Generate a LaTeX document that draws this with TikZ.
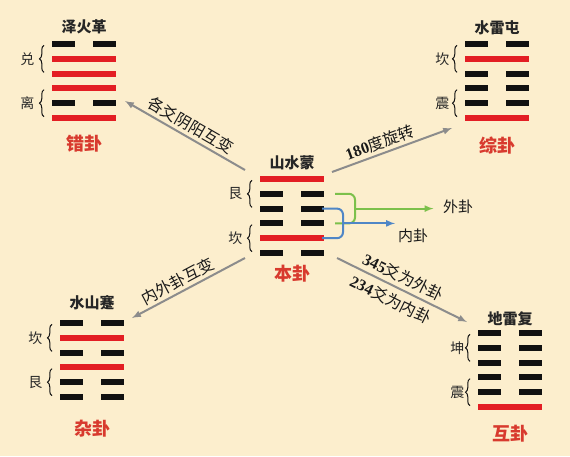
\documentclass[tikz,border=0pt]{standalone}
\usepackage{fontspec}
\setmainfont{Noto Sans CJK SC}
\newfontfamily\numfont{Liberation Serif}
\usepackage{tikz}
\usetikzlibrary{positioning, calc, decorations.pathreplacing}
\usepackage{xcolor}
\definecolor{bgcolor}{HTML}{FCEECD}
\definecolor{yangcolor}{HTML}{E31E24}
\definecolor{yincolor}{HTML}{111111}
\definecolor{namecolor}{HTML}{D83A2E}
\definecolor{arrowcolor}{HTML}{8C8C8C}
\definecolor{waicolor}{HTML}{7CC04B}
\definecolor{neicolor}{HTML}{4F86C6}

% one hexagram: #1 name, #2 left x, #3 top line y, #4 lines from top (1 = yang, 0 = yin)
\newcommand{\gua}[4]{%
  \node[guabox, anchor=north west] (#1) at (#2,#3+3) {};
  \coordinate (#1-up) at (#2,#3-14.8);
  \coordinate (#1-lo) at (#2,#3-59.2);
  \foreach \v [count=\i] in {#4} {
    \pgfmathsetmacro{\yy}{#3-(\i-1)*14.8}
    \ifnum\v=1
      \draw[yang] (#2,\yy) -- ++(64,0);
    \else
      \draw[yin] (#2,\yy) -- ++(23,0);
      \draw[yin] (#2+41,\yy) -- ++(23,0);
    \fi
  }
  \draw[trigrambrace] ($(#1-up)+(-8,-13.5)$) -- ($(#1-up)+(-8,13.5)$);
  \draw[trigrambrace] ($(#1-lo)+(-8,-13.5)$) -- ($(#1-lo)+(-8,13.5)$);
}

\begin{document}
\begin{tikzpicture}[x=1pt, y=1pt,
    guabox/.style={minimum width=64pt, minimum height=80pt, inner sep=0pt},
    yang/.style={line width=6pt, yangcolor},
    yin/.style={line width=6pt, yincolor},
    trigrambrace/.style={decorate, decoration={brace, amplitude=4.5pt}, line width=1pt, yincolor},
    guatitle/.style={font=\fontsize{15}{18}\selectfont\bfseries, text=black!85},
    guaname/.style={font=\fontsize{18}{21}\selectfont\bfseries, text=namecolor},
    trilabel/.style={font=\fontsize{14}{17}\selectfont, text=black!85},
    changearrow/.style={line width=2pt, arrowcolor, arrows={-latex}},
    changelabel/.style={font=\fontsize{16}{19}\selectfont, text=black!90, inner sep=3pt},
    sidelabel/.style={font=\fontsize{15}{18}\selectfont, text=black!90}]

    % Background
    \fill[bgcolor] (0,0) rectangle (570,-456);
    \useasboundingbox (0,0) rectangle (570,-456);

    % Hexagrams
    % ge (top left)
    \gua{ge}{52}{-44}{0,1,1,1,0,1}
    \node[guatitle, above=4pt of ge] {泽火革};
    \node[guaname, below=10pt of ge] {错卦};
    \node[trilabel, left=14pt of ge-up] {兑};
    \node[trilabel, left=14pt of ge-lo] {离};

    % zhun (top right)
    \gua{zhun}{465}{-44}{0,1,0,0,0,1}
    \node[guatitle, above=3pt of zhun] {水雷屯};
    \node[guaname, below=12pt of zhun] {综卦};
    \node[trilabel, left=12pt of zhun-up] {坎};
    \node[trilabel, left=12pt of zhun-lo] {震};

    % meng (centre)
    \gua{meng}{260}{-179}{1,0,0,0,1,0}
    \node[guatitle, above=3pt of meng] {山水蒙};
    \node[guaname, below=5pt of meng] {本卦};
    \node[trilabel, left=14pt of meng-up] {艮};
    \node[trilabel, left=14pt of meng-lo] {坎};

    % jian (bottom left)
    \gua{jian}{60}{-323}{0,1,0,1,0,0}
    \node[guatitle, above=6pt of jian] {水山蹇};
    \node[guaname, below=16pt of jian] {杂卦};
    \node[trilabel, left=14pt of jian-up] {坎};
    \node[trilabel, left=14pt of jian-lo] {艮};

    % fu (bottom right)
    \gua{fu}{478}{-333}{0,0,0,0,0,1}
    \node[guatitle, above=1pt of fu] {地雷复};
    \node[guaname, below=11pt of fu] {互卦};
    \node[trilabel, left=10pt of fu-up] {坤};
    \node[trilabel, left=10pt of fu-lo] {震};

    % Arrow ends
    \coordinate (meng-nw) at (245,-170);
    \coordinate (ge-se) at (125,-101);
    \coordinate (meng-ne) at (332,-172);
    \coordinate (zhun-sw) at (452,-128);
    \coordinate (meng-sw) at (245,-258);
    \coordinate (jian-ne) at (132,-318);
    \coordinate (meng-se) at (337,-258);
    \coordinate (fu-nw) at (467,-322);

    % Draw the arrows
    \draw[changearrow] (meng-nw) -- node[changelabel, above, sloped] {各爻阴阳互变} (ge-se);
    \draw[changearrow] (meng-ne) -- node[changelabel, above, sloped, pos=0.43] {{\numfont\bfseries 180}度旋转} (zhun-sw);
    \draw[changearrow] (meng-sw) -- node[changelabel, above, sloped, pos=0.55] {内外卦互变} (jian-ne);
    \draw[changearrow] (meng-se) -- node[changelabel, above=1pt, sloped, pos=0.47] {{\numfont\bfseries 345}爻为外卦}
                                    node[changelabel, below=2pt, sloped, pos=0.46] {{\numfont\bfseries 234}爻为内卦} (fu-nw);

    % Outer and inner trigram brackets
    \coordinate (wai-top) at (335,-193.8);
    \coordinate (wai-bot) at (335,-223.4);
    \coordinate (wai-mid) at (355,-208.6);
    \coordinate (nei-top) at (322,-208.6);
    \coordinate (nei-bot) at (322,-238.2);
    \coordinate (nei-mid) at (343,-223.4);
    \coordinate (nei-tip) at (395,-223.4);
    \node[sidelabel] (waigua) at (458,-207) {外卦};
    \node[sidelabel] (neigua) at (413,-236) {内卦};

    \draw[waicolor, line width=2pt, rounded corners=6pt] (wai-top) -| (wai-mid) |- (wai-bot);
    \draw[waicolor, line width=2pt, arrows={-latex}, shorten >=6pt] (wai-mid) -- (wai-mid -| waigua.west);
    \draw[neicolor, line width=2pt, rounded corners=6pt] (nei-top) -| (nei-mid) |- (nei-bot);
    \draw[neicolor, line width=2pt, arrows={-latex}] (nei-mid) -- (nei-tip);
\end{tikzpicture}
\end{document}
